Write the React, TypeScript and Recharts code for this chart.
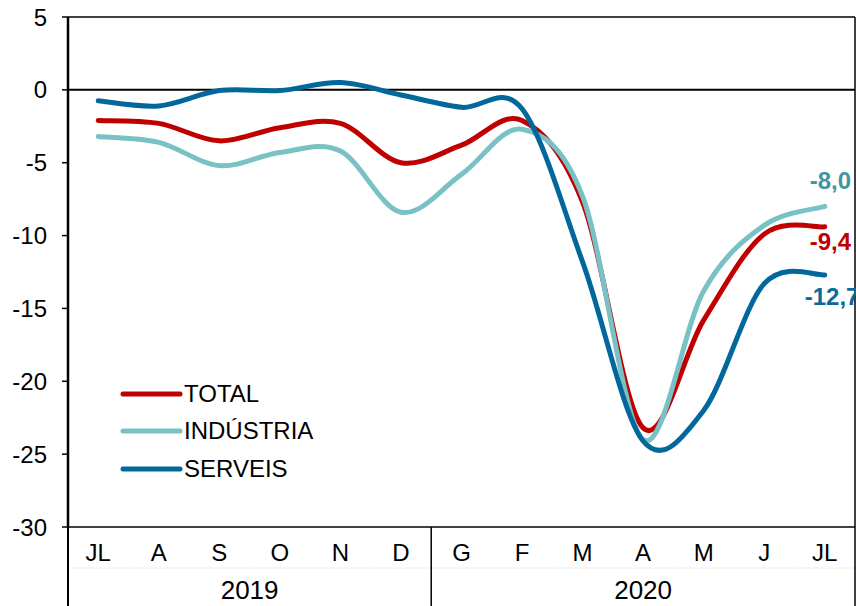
import React from "react";
import {
  LineChart,
  Line,
  XAxis,
  YAxis,
  ReferenceLine,
  Legend,
  LabelList,
} from "recharts";

const monthIds = ["JL19", "A19", "S19", "O19", "N19", "D19", "G20", "F20", "M20", "A20", "MY20", "J20", "JL20"];
const monthLabels = ["JL", "A", "S", "O", "N", "D", "G", "F", "M", "A", "M", "J", "JL"];
const yearLabels = ["2019", "2020"];
const yTicks = [5, 0, -5, -10, -15, -20, -25, -30];

const total = [-2.1, -2.3, -3.5, -2.6, -2.3, -5.0, -3.8, -2.1, -7.7, -23.2, -15.8, -9.9, -9.4];
const industria = [-3.2, -3.6, -5.2, -4.3, -4.2, -8.4, -5.8, -2.7, -7.3, -24.0, -13.8, -9.3, -8.0];
const serveis = [-0.75, -1.1, -0.05, -0.05, 0.5, -0.35, -1.2, -1.3, -11.8, -24.1, -22.0, -13.3, -12.7];

const FONT = "'Liberation Sans', Arial, sans-serif";
const W = 856;
const H = 606;
const LEFT = 68;
const PLOT_RIGHT = 855;

const series = [
  { key: "total", name: "TOTAL", color: "#c00000", labelColor: "#c00000", dx: -15, dy: 15 },
  { key: "industria", name: "INDÚSTRIA", color: "#78c2c5", labelColor: "#3f969c", dx: -15, dy: -26 },
  { key: "serveis", name: "SERVEIS", color: "#02679b", labelColor: "#0b6a9c", dx: -20, dy: 22 },
];

const data = monthIds.map((id, i) => ({
  id,
  total: total[i],
  industria: industria[i],
  serveis: serveis[i],
}));

// smoothing like a spreadsheet "smoothed line" (Catmull-Rom through the points)
const smoothCurve = (context: any) => {
  let pts: number[][] = [];
  return {
    areaStart() {},
    areaEnd() {},
    lineStart() {
      pts = [];
    },
    lineEnd() {
      if (!pts.length) return;
      context.moveTo(pts[0][0], pts[0][1]);
      for (let i = 0; i < pts.length - 1; i++) {
        const p0 = pts[i - 1] || pts[i];
        const p1 = pts[i];
        const p2 = pts[i + 1];
        const p3 = pts[i + 2] || p2;
        context.bezierCurveTo(
          p1[0] + (p2[0] - p0[0]) / 6,
          p1[1] + (p2[1] - p0[1]) / 6,
          p2[0] - (p3[0] - p1[0]) / 6,
          p2[1] - (p3[1] - p1[1]) / 6,
          p2[0],
          p2[1]
        );
      }
    },
    point(x: number, y: number) {
      pts.push([x, y]);
    },
  };
};

const MonthTick = (props: any) => {
  const { x, y, payload, index } = props;
  const half = payload && payload.offset ? payload.offset : (PLOT_RIGHT - LEFT) / monthIds.length / 2;
  const last = monthIds.length - 1;
  return (
    <g>
      <line x1={x - half} y1={y + 41} x2={x + half} y2={y + 41} stroke="#eeeeee" strokeWidth={1} />
      <text x={x} y={y + 34} textAnchor="middle" fontSize={24} fontFamily={FONT} fill="#000">
        {monthLabels[index]}
      </text>
      {index === 0 && (
        <>
          <line x1={x - half} y1={y} x2={x - half} y2={y + 79} stroke="#000" strokeWidth={2} />
          <text x={x + half * 5} y={y + 72} textAnchor="middle" fontSize={26} fontFamily={FONT} fill="#000">
            {yearLabels[0]}
          </text>
        </>
      )}
      {index === 6 && (
        <>
          <line x1={x - half} y1={y} x2={x - half} y2={y + 79} stroke="#000" strokeWidth={1.5} />
          <text x={x + half * 6} y={y + 72} textAnchor="middle" fontSize={26} fontFamily={FONT} fill="#000">
            {yearLabels[1]}
          </text>
        </>
      )}
      {index === last && (
        <line x1={x + half} y1={y} x2={x + half} y2={y + 79} stroke="#000" strokeWidth={1.5} />
      )}
    </g>
  );
};

const endLabel = (s: any) => (props: any) => {
  const { x, y, index, value } = props;
  if (index !== monthIds.length - 1) return null;
  return (
    <text
      x={x + s.dx}
      y={y + s.dy}
      dominantBaseline="central"
      fill={s.labelColor}
      fontSize={24}
      fontWeight="bold"
      fontFamily={FONT}
    >
      {Number(value).toFixed(1).replace(".", ",")}
    </text>
  );
};

const LegendBox = () => (
  <div style={{ fontFamily: FONT, fontSize: 24, color: "#000" }}>
    {series.map((s) => (
      <div key={s.key} style={{ display: "flex", alignItems: "center", height: 37.5 }}>
        <svg width={63} height={8}>
          <line x1={3} y1={4} x2={60} y2={4} stroke={s.color} strokeWidth={5} strokeLinecap="round" />
        </svg>
        <span style={{ marginLeft: 1 }}>{s.name}</span>
      </div>
    ))}
  </div>
);

export default function App() {
  return (
    <div style={{ position: "absolute", left: 0, top: 0, width: W, height: H, background: "#fff" }}>
      <LineChart width={W} height={H} data={data} margin={{ top: 17, right: 0, bottom: 0, left: 0 }}>
        <XAxis
          dataKey="id"
          scale="band"
          interval={0}
          height={79}
          tickSize={0}
          tickMargin={0}
          tickLine={false}
          axisLine={{ stroke: "#000", strokeWidth: 1.5 }}
          tick={<MonthTick />}
        />
        <YAxis
          width={LEFT}
          domain={[-30, 5]}
          ticks={yTicks}
          interval={0}
          allowDataOverflow
          tickSize={6}
          tickMargin={15}
          tick={{ fontSize: 24, fill: "#000", fontFamily: FONT }}
          tickLine={{ stroke: "#000", strokeWidth: 1.5 }}
          axisLine={{ stroke: "#000", strokeWidth: 2.5 }}
        />
        <YAxis
          yAxisId="frame"
          orientation="right"
          width={1}
          domain={[0, 1]}
          tick={false}
          tickLine={false}
          axisLine={{ stroke: "#000", strokeWidth: 1.5 }}
        />
        <ReferenceLine y={5} stroke="#000" strokeWidth={1.5} />
        <ReferenceLine y={0} stroke="#000" strokeWidth={2} />
        <Legend
          layout="vertical"
          align="center"
          verticalAlign="middle"
          wrapperStyle={{ position: "absolute", left: 120, top: 375, width: 240 }}
          content={<LegendBox />}
        />
        {series.map((s) => (
          <Line
            key={s.key}
            dataKey={s.key}
            name={s.name}
            type={smoothCurve as any}
            stroke={s.color}
            strokeWidth={5}
            strokeLinecap="round"
            dot={false}
            activeDot={false}
            isAnimationActive={false}
          >
            <LabelList dataKey={s.key} content={endLabel(s)} />
          </Line>
        ))}
      </LineChart>
    </div>
  );
}
